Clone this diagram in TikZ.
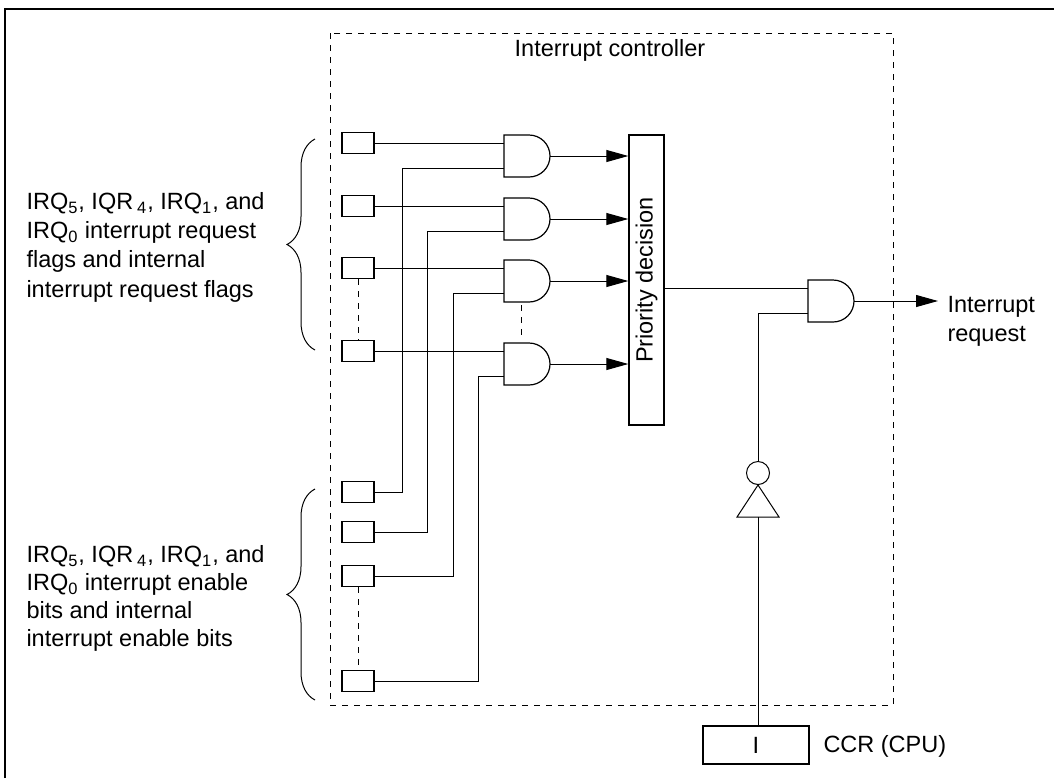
\documentclass[tikz,border=0pt]{standalone}
\usepackage{fontspec}
\setmainfont{Liberation Sans}
\usetikzlibrary{arrows.meta,decorations.pathreplacing}

\begin{document}
\begin{tikzpicture}[x=0.5pt, y=-0.5pt, line width=0.5pt,
	font=\fontsize{11.75}{14.5}\selectfont,
	bitbox/.style={draw, line width=0.7pt, minimum width=16pt, minimum height=10.5pt, inner sep=0pt},
	sidetext/.style={align=left, inner sep=0pt, anchor=north west},
	brace/.style={decorate, decoration={brace, amplitude=14pt}}]
	\tikzset{>={Triangle[length=11pt,width=6pt]}}
	\useasboundingbox (0,0) rectangle (1054,778);
	\draw [line width=1pt] (4.5,778) |- (1054,9);
	% interrupt controller
	\draw [dashed] (330,33) rectangle (893,705);
	\node (title) at (610,50) {Interrupt controller};
	% flags and enable bits
	\foreach \i/\y in {1/143,2/206,3/268,4/351}
		\node [bitbox] (f\i) at (358,\y) {};
	\foreach \i/\y in {1/492,2/532,3/576,4/681}
		\node [bitbox] (e\i) at (358,\y) {};
	\draw [dashed] (f3) -- (f4);
	\draw [dashed] (e3) -- (e4);
	% and gates
	\foreach \i/\x/\c in {1/504/156,2/504/219,3/504/281,4/504/364,5/808/301}
	{
		\draw [line width=0.6pt] (\x,\c-21) -- ++(25,0) arc[start angle=90, end angle=-90, radius=10.5pt] -- (\x,\c+21) -- cycle;
		\coordinate (ga\i) at (\x,\c-13);
		\coordinate (gb\i) at (\x,\c+12);
		\coordinate (go\i) at (\x+46,\c);
	}
	\draw [dashed] (521,305) -- (521,340);
	\node [draw, line width=0.7pt, minimum width=17.5pt, minimum height=145pt, inner sep=0pt] (prio) at (646.5,280) {};
	\node [rotate=90] at (prio) {Priority decision};
	% wiring
	\foreach \i/\x in {1/402,2/427,3/453,4/478}
	{
		\coordinate (v\i) at (\x,0);
		\draw (f\i.east) -- (ga\i);
		\draw (e\i.east) -| (v\i |- gb\i) -- (gb\i);
		\draw [->] (go\i) -- (go\i -| prio.west);
	}
	\draw (prio.east |- ga5) -- (ga5);
	\coordinate (out) at (938,301);
	\draw [->] (go5) -- (out);
	\node [sidetext] (irq) at (947,296) {Interrupt\\request};
	% inverter and CCR
	\node [circle, draw, minimum size=11.5pt, inner sep=0pt] (bub) at (758,473) {};
	\coordinate (inv) at (758,517);
	\draw (bub.south) -- ([xshift=-10.5pt]inv) -- ([xshift=10.5pt]inv) -- cycle;
	\draw (gb5) -| (bub.north);
	\node [draw, line width=0.7pt, minimum width=53pt, minimum height=19pt] (ccr) at (756,745) {I};
	\draw (inv) -- (inv |- ccr.north);
	\node [anchor=west, inner sep=0pt] (ccrl) at (823,746) {CCR (CPU)};
	% braces and labels
	\draw [brace] (315,350) -- (315,139);
	\draw [brace] (315,700) -- (315,489);
	\node [sidetext, font=\fontsize{11.75}{14.6}\selectfont] (flagtxt) at (26,192)
		{IRQ\textsubscript{5}, IQR\,\textsubscript{4}, IRQ\textsubscript{1}, and\\IRQ\textsubscript{0} interrupt request\\flags and internal\\interrupt request flags};
	\node [sidetext, font=\fontsize{11.75}{14}\selectfont] (enatxt) at (26,545)
		{IRQ\textsubscript{5}, IQR\,\textsubscript{4}, IRQ\textsubscript{1}, and\\IRQ\textsubscript{0} interrupt enable\\bits and internal\\interrupt enable bits};
\end{tikzpicture}
\end{document}
